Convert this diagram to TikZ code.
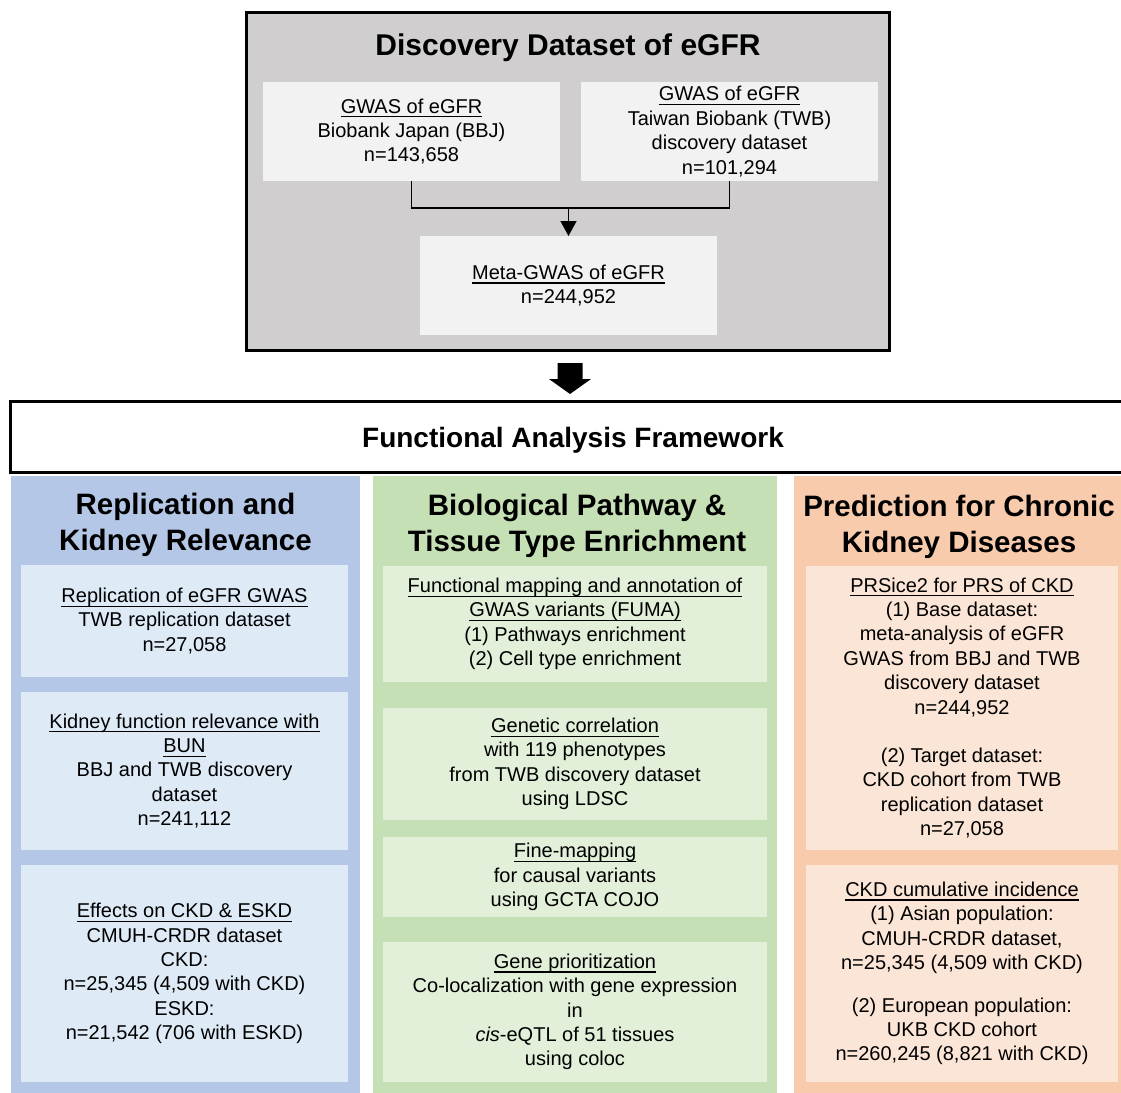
\documentclass[tikz,border=0pt]{standalone}
\usepackage{fontspec}
\setmainfont{Liberation Sans}
\usetikzlibrary{arrows.meta,calc}
\definecolor{grayfill}{HTML}{D0CECE}
\definecolor{grayin}{HTML}{F2F2F2}
\definecolor{bluecol}{HTML}{B4C7E7}
\definecolor{bluein}{HTML}{DEEBF7}
\definecolor{greencol}{HTML}{C5E0B4}
\definecolor{greenin}{HTML}{E2F0D9}
\definecolor{orangecol}{HTML}{F8CBAD}
\definecolor{orangein}{HTML}{FBE5D6}
\newsavebox{\ulbox}
\newcommand{\ulin}[1]{\sbox{\ulbox}{#1}\rlap{\rule[-4.3pt]{\wd\ulbox}{1.3pt}}\usebox{\ulbox}}
\begin{document}
\begin{tikzpicture}[x=1pt,y=-1pt,
  body/.style={font=\fontsize{20}{24.4}\selectfont, align=center, inner sep=0pt, outer sep=0pt},
  inbox/.style={body, fill=#1, draw=none},
  colhead/.style={font=\fontsize{29.5}{36}\selectfont\bfseries, align=center, inner sep=0pt},
  bigtitle/.style={font=\fontsize{30}{36}\selectfont\bfseries, inner sep=0pt},
  conn/.style={line width=1.3pt, draw=black}
]
\useasboundingbox (0,0) rectangle (1121,1092);
\fill[white] (0,0) rectangle (1121,1092);
\clip (0,0) rectangle (1121,1092);

% ---------- Discovery dataset ----------
\node[draw=black, line width=3pt, fill=grayfill, minimum width=643pt, minimum height=338pt, inner sep=0pt] (disc) at (568,181.5) {};
\node[bigtitle] (disctitle) at (568,47.5) {Discovery Dataset of eGFR};
\node[inbox=grayin, minimum width=297pt, minimum height=99pt] (bbj) at (411.5,131.5)
  {\ulin{GWAS of eGFR}\\Biobank Japan (BBJ)\\n=143,658};
\node[inbox=grayin, minimum width=297pt, minimum height=99pt] (twb) at (729.5,131.5)
  {\ulin{GWAS of eGFR}\\Taiwan Biobank (TWB)\\discovery dataset\\n=101,294};
\node[inbox=grayin, minimum width=297pt, minimum height=99pt] (meta) at (568.5,285.5)
  {\ulin{Meta-GWAS of eGFR}\\n=244,952};
\coordinate (join) at ($(meta.north)+(0,-28)$);
\draw[conn] (bbj.south) |- (join) -| (twb.south);
\draw[conn, -{Triangle[width=16pt,length=15pt]}] (join) -- (meta.north);

% ---------- Functional analysis framework ----------
\node[draw=black, line width=3pt, fill=white, minimum width=1126pt, minimum height=71pt, inner sep=0pt] (faf) at (573,436.5) {};
\node[font=\fontsize{28}{34}\selectfont\bfseries, inner sep=0pt] (faftitle) at (573,440) {Functional Analysis Framework};

% big block arrow
\coordinate (ba) at ($(disc.south)+(2,11)$);
\fill[black] ($(ba)+(-12.5,0)$) -- ($(ba)+(12.5,0)$) -- ($(ba)+(12.5,16)$) -- ($(ba)+(21,16)$)
  -- ($(ba)+(0,31)$) -- ($(ba)+(-21,16)$) -- ($(ba)+(-12.5,16)$) -- cycle;

% ---------- Columns ----------
\fill[bluecol] (11,476) rectangle (360,1100);
\fill[greencol] (373,476) rectangle (777,1100);
\fill[orangecol] (794,476) rectangle (1135,1100);

\node[colhead] (hblue) at (185.5,525) {Replication and\\Kidney Relevance};
\node[colhead] (hgreen) at (577,525.5) {Biological Pathway \&\\Tissue Type Enrichment};
\node[colhead] (horange) at (959,526.5) {Prediction for Chronic\\Kidney Diseases};

% blue column boxes
\node[inbox=bluein, minimum width=327pt, minimum height=112pt] (b1) at (184.5,621)
  {\ulin{Replication of eGFR GWAS}\\TWB replication dataset\\n=27,058};
\node[inbox=bluein, minimum width=327pt, minimum height=158pt] (b2) at (184.5,771)
  {\ulin{Kidney function relevance with}\\\ulin{BUN}\\BBJ and TWB discovery\\dataset\\n=241,112};
\node[inbox=bluein, minimum width=327pt, minimum height=217pt] (b3) at (184.5,973.5)
  {\ulin{Effects on CKD \& ESKD}\\CMUH-CRDR dataset\\CKD:\\n=25,345 (4,509 with CKD)\\ESKD:\\n=21,542 (706 with ESKD)};

% green column boxes
\node[inbox=greenin, minimum width=384pt, minimum height=116pt] (g1) at (575,624)
  {\ulin{Functional mapping and annotation of}\\\ulin{GWAS variants (FUMA)}\\(1) Pathways enrichment\\(2) Cell type enrichment};
\node[inbox=greenin, minimum width=384pt, minimum height=112pt] (g2) at (575,764)
  {\ulin{Genetic correlation}\\with 119 phenotypes\\from TWB discovery dataset\\using LDSC};
\node[inbox=greenin, minimum width=384pt, minimum height=80pt] (g3) at (575,877)
  {\ulin{Fine-mapping}\\for causal variants\\using GCTA COJO};
\node[inbox=greenin, minimum width=384pt, minimum height=140pt] (g4) at (575,1012)
  {\ulin{Gene prioritization}\\Co-localization with gene expression\\in\\\textit{cis}-eQTL of 51 tissues\\using coloc};

% orange column boxes
\node[inbox=orangein, minimum width=312pt, minimum height=284pt] (o1) at (962,708)
  {\ulin{PRSice2 for PRS of CKD}\\(1) Base dataset:\\meta-analysis of eGFR\\GWAS from BBJ and TWB\\discovery dataset\\n=244,952\\[24pt](2) Target dataset:\\CKD cohort from TWB\\replication dataset\\n=27,058};
\node[inbox=orangein, minimum width=312pt, minimum height=217pt] (o2) at (962,973.5)
  {\ulin{CKD cumulative incidence}\\(1) Asian population:\\CMUH-CRDR dataset,\\n=25,345 (4,509 with CKD)\\[18pt](2) European population:\\UKB CKD cohort\\n=260,245 (8,821 with CKD)};
\end{tikzpicture}
\end{document}
